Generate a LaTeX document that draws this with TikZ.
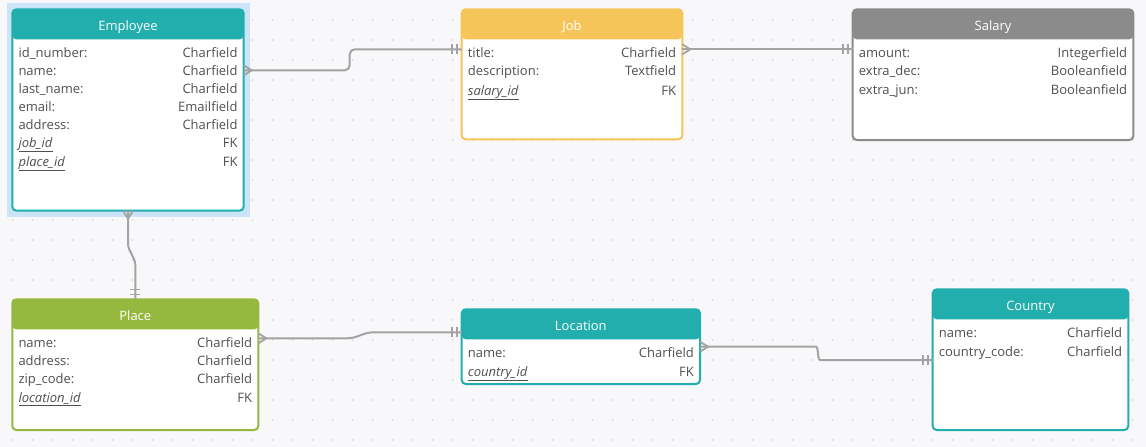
\documentclass[tikz,border=0pt]{standalone}
\usepackage{fontspec}
\setmainfont{Open Sans}
\usetikzlibrary{positioning}
\usetikzlibrary{decorations.markings}
\definecolor{tealc}{HTML}{22AEAD}
\definecolor{jobc}{HTML}{F5C55A}
\definecolor{salc}{HTML}{8B8B8B}
\definecolor{placec}{HTML}{95B83F}
\definecolor{selblue}{HTML}{CBE4F8}
\definecolor{bgc}{HTML}{F8F8FB}
\definecolor{dotc}{HTML}{DADADF}
\definecolor{wire}{HTML}{A3A3A3}
\definecolor{txt}{HTML}{505050}
\newcommand\fk[1]{\underline{\textit{#1}}}
\tikzset{table/.style={rectangle, draw=#1, fill=white, line width=2pt, rounded corners=4pt,
  anchor=north west, inner sep=0pt, outer sep=0pt,
  path picture={\fill[#1] (path picture bounding box.north west) rectangle ([yshift=-30pt]path picture bounding box.north east);}}}
\tikzstyle{tabtitle} = [text=white, anchor=base, inner sep=0pt]
\tikzstyle{colname} = [text=txt, anchor=base west, inner sep=0pt]
\tikzstyle{coltype} = [text=txt, anchor=base east, inner sep=0pt]
\tikzstyle{link} = [draw=wire, line width=2pt, rounded corners=5pt]
\tikzstyle{crowfoot} = [postaction={decorate, decoration={markings, mark=at position 8pt with {\draw[wire, line width=1.8pt, sharp corners] (-8pt,5pt) -- (0,0) -- (-8pt,-5pt);}}}]
\tikzstyle{onebar} = [postaction={decorate, decoration={markings,
  mark=at position -5pt with {\draw[wire, line width=1.6pt] (0,-5pt) -- (0,5pt);},
  mark=at position -10pt with {\draw[wire, line width=1.6pt] (0,-5pt) -- (0,5pt);}}}]

\begin{document}
\begin{tikzpicture}[x=1pt, y=-1pt, font=\fontsize{13}{16}\selectfont]
\fill[bgc] (0,0) rectangle (1146,447);
\useasboundingbox (0,0) rectangle (1146,447);
\foreach \x in {0,...,56} \foreach \y in {1,...,22} \fill[dotc] (12.7+20*\x, 20*\y) circle (1pt);

\fill[selblue] (6.5,3) rectangle (250,216.5);

\node[table=tealc, minimum width=231.4pt, minimum height=201.4pt] (emp) at (12.3,9.3) {};
\node[tabtitle] (emp-t) at ([yshift=-21pt]emp.north) {Employee};
\foreach \y/\k/\v [count=\i] in {43/id\_number:/Charfield, 61/name:/Charfield, 79/last\_name:/Charfield,
  97/email:/Emailfield, 115/address:/Charfield, 133/\fk{job\_id}/FK, 152/\fk{place\_id}/FK}{
  \node[colname] (emp-k\i) at ([xshift=6pt, yshift={-(\y+4.7)*1pt}]emp.north west) {\k};
  \node[coltype] (emp-v\i) at ([xshift=-6pt, yshift={-(\y+4.7)*1pt}]emp.north east) {\v};
}

\node[table=jobc, minimum width=220.6pt, minimum height=130pt] (job) at (461.7,9.3) {};
\node[tabtitle] (job-t) at ([yshift=-21pt]job.north) {Job};
\foreach \y/\k/\v [count=\i] in {43/title:/Charfield, 61/description:/Textfield, 81/\fk{salary\_id}/FK}{
  \node[colname] (job-k\i) at ([xshift=6pt, yshift={-(\y+4.7)*1pt}]job.north west) {\k};
  \node[coltype] (job-v\i) at ([xshift=-6pt, yshift={-(\y+4.7)*1pt}]job.north east) {\v};
}

\node[table=salc, minimum width=280.6pt, minimum height=130.7pt] (sal) at (852.7,9.3) {};
\node[tabtitle] (sal-t) at ([yshift=-21pt]sal.north) {Salary};
\foreach \y/\k/\v [count=\i] in {43/amount:/Integerfield, 61/extra\_dec:/Booleanfield, 80.5/extra\_jun:/Booleanfield}{
  \node[colname] (sal-k\i) at ([xshift=6pt, yshift={-(\y+4.7)*1pt}]sal.north west) {\k};
  \node[coltype] (sal-v\i) at ([xshift=-6pt, yshift={-(\y+4.7)*1pt}]sal.north east) {\v};
}

\node[table=placec, minimum width=246pt, minimum height=130.7pt] (place) at (12.3,299.3) {};
\node[tabtitle] (place-t) at ([yshift=-21pt]place.north) {Place};
\foreach \y/\k/\v [count=\i] in {43.4/name:/Charfield, 61.4/address:/Charfield, 79.4/zip\_code:/Charfield, 98/\fk{location\_id}/FK}{
  \node[colname] (place-k\i) at ([xshift=6pt, yshift={-(\y+4.7)*1pt}]place.north west) {\k};
  \node[coltype] (place-v\i) at ([xshift=-6pt, yshift={-(\y+4.7)*1pt}]place.north east) {\v};
}

\node[table=tealc, minimum width=238.3pt, minimum height=74.7pt] (loc) at (461.7,309.3) {};
\node[tabtitle] (loc-t) at ([yshift=-21pt]loc.north) {Location};
\foreach \y/\k/\v [count=\i] in {43/name:/Charfield, 62/\fk{country\_id}/FK}{
  \node[colname] (loc-k\i) at ([xshift=6pt, yshift={-(\y+4.7)*1pt}]loc.north west) {\k};
  \node[coltype] (loc-v\i) at ([xshift=-6pt, yshift={-(\y+4.7)*1pt}]loc.north east) {\v};
}

\node[table=tealc, minimum width=195.6pt, minimum height=140.7pt] (cty) at (932.7,289.3) {};
\node[tabtitle] (cty-t) at ([yshift=-21pt]cty.north) {Country};
\foreach \y/\k/\v [count=\i] in {43/name:/Charfield, 62.7/country\_code:/Charfield}{
  \node[colname] (cty-k\i) at ([xshift=6pt, yshift={-(\y+4.7)*1pt}]cty.north west) {\k};
  \node[coltype] (cty-v\i) at ([xshift=-6pt, yshift={-(\y+4.7)*1pt}]cty.north east) {\v};
}

\draw[link, crowfoot, onebar] ([yshift=-61pt]emp.north east) -- ++(106,0) |- ([yshift=-40pt]job.north west);
\draw[link, crowfoot, onebar] ([yshift=-40pt]job.north east) -- ([yshift=-40pt]sal.north west);
\draw[link, rounded corners=3pt, crowfoot, onebar] (emp.south) -- ++(0,36) -- ([yshift=37.5pt]place.north) -- (place.north);
\draw[link, crowfoot, onebar] ([yshift=-39pt]place.north east) -- ++(94,0) -- ++(16,-6) -- ([yshift=-23pt]loc.north west);
\draw[link, crowfoot, onebar] ([yshift=-37.4pt]loc.north east) -- ++(111,0) to[out=0, in=180] ++(14,13.3) -- ([yshift=-70.7pt]cty.north west);
\end{tikzpicture}
\end{document}
